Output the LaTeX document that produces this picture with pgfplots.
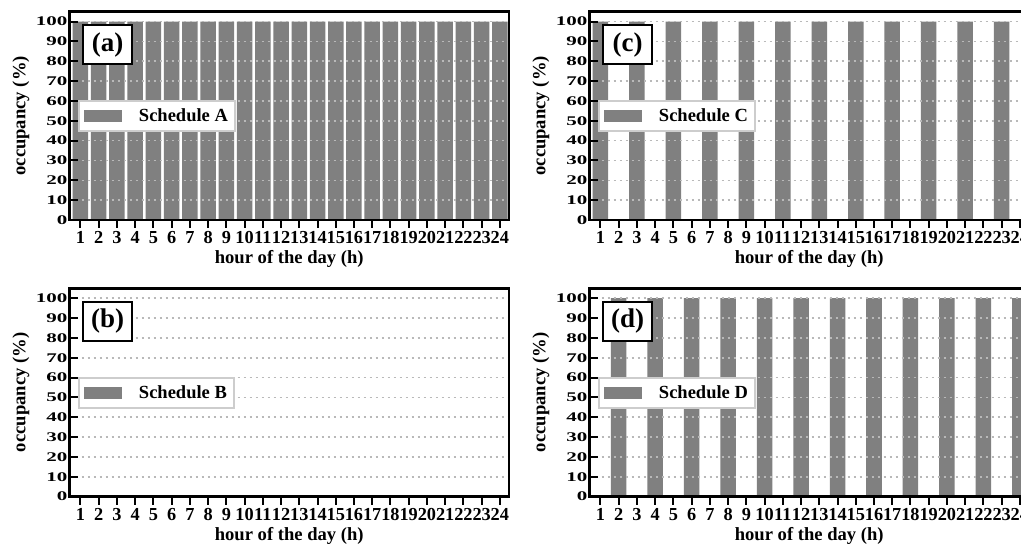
\documentclass[border=0pt]{standalone}
\usepackage{fontspec}
\setmainfont{Liberation Serif}
\usepackage{pgfplots}
\pgfplotsset{compat=1.18}
\definecolor{bargray}{RGB}{128,128,128}
\definecolor{gridgray}{RGB}{185,185,185}
\definecolor{leggray}{RGB}{205,205,205}

\pgfplotsset{
  sched/.style={
    scale only axis, width=439.5bp, height=208.3bp, anchor=south west,
    xmin=0.4, xmax=24.5, ymin=0, ymax=105,
    xtick={1,...,24}, ytick={0,10,...,100},
    xtick pos=left, ytick pos=left,
    tick align=inside,
    major tick length=8bp,
    every tick/.style={black, line width=2bp},
    axis line style={line width=2.6bp},
    ymajorgrids,
    grid style={gridgray, dash pattern=on 2.2bp off 3.8bp, line width=1.6bp},
    axis on top,
    ybar, bar width=0.85,
    xticklabel style={font=\fontsize{18.3bp}{21bp}\selectfont\bfseries, inner xsep=0pt},
    yticklabel style={font=\fontsize{21bp}{24bp}\selectfont\bfseries, inner xsep=2bp},
    /pgf/number format/assume math mode=true,
    yticklabel={\scalebox{1}[0.63]{\pgfmathprintnumber{\tick}}},
    xlabel={hour of the day (h)}, ylabel={occupancy (\%)},
    label style={font=\fontsize{18.6bp}{22bp}\selectfont\bfseries},
    ylabel shift=1bp,
    legend style={at={(0.0193,0.576)}, anchor=north west, draw=leggray, line width=2bp, fill=white,
      font=\fontsize{18.5bp}{22bp}\selectfont\bfseries, inner xsep=5bp, inner ysep=6bp,
      /tikz/every odd column/.append style={column sep=15bp}},
    legend image code/.code={\fill[bargray] (2bp,-6bp) rectangle (40bp,6bp);},
  },
}
\tikzset{
  lab/.style={draw, fill=white, line width=2.4bp, anchor=north west, minimum width=49bp,
    minimum height=39bp, inner sep=0pt, font=\fontsize{27bp}{30bp}\selectfont\bfseries},
}

\begin{document}
\begin{tikzpicture}
% (a)
\begin{axis}[sched, at={(69.5bp,324bp)}]
\addplot[fill=bargray, draw=none] coordinates {(1,100) (2,100) (3,100) (4,100) (5,100) (6,100) (7,100) (8,100) (9,100) (10,100) (11,100) (12,100) (13,100) (14,100) (15,100) (16,100) (17,100) (18,100) (19,100) (20,100) (21,100) (22,100) (23,100) (24,100)};
\addlegendentry{Schedule A}
\end{axis}
\node[lab] at (82bp,520bp) {(a)};
% (b)
\begin{axis}[sched, at={(69.5bp,47.4bp)}]
\addplot[fill=bargray, draw=none] coordinates {(1,0) (2,0) (3,0) (4,0) (5,0) (6,0) (7,0) (8,0) (9,0) (10,0) (11,0) (12,0) (13,0) (14,0) (15,0) (16,0) (17,0) (18,0) (19,0) (20,0) (21,0) (22,0) (23,0) (24,0)};
\addlegendentry{Schedule B}
\end{axis}
\node[lab] at (82bp,243.4bp) {(b)};
% (c)
\begin{axis}[sched, at={(589.5bp,324bp)}]
\addplot[fill=bargray, draw=none] coordinates {(1,100) (2,0) (3,100) (4,0) (5,100) (6,0) (7,100) (8,0) (9,100) (10,0) (11,100) (12,0) (13,100) (14,0) (15,100) (16,0) (17,100) (18,0) (19,100) (20,0) (21,100) (22,0) (23,100) (24,0)};
\addlegendentry{Schedule C}
\end{axis}
\node[lab] at (602bp,520bp) {(c)};
% (d)
\begin{axis}[sched, at={(589.5bp,47.4bp)}]
\addplot[fill=bargray, draw=none] coordinates {(1,0) (2,100) (3,0) (4,100) (5,0) (6,100) (7,0) (8,100) (9,0) (10,100) (11,0) (12,100) (13,0) (14,100) (15,0) (16,100) (17,0) (18,100) (19,0) (20,100) (21,0) (22,100) (23,0) (24,100)};
\addlegendentry{Schedule D}
\end{axis}
\node[lab] at (602bp,243.4bp) {(d)};
\pgfresetboundingbox
\path[use as bounding box] (0bp,0bp) rectangle (1021bp,544bp);
\end{tikzpicture}
\end{document}
